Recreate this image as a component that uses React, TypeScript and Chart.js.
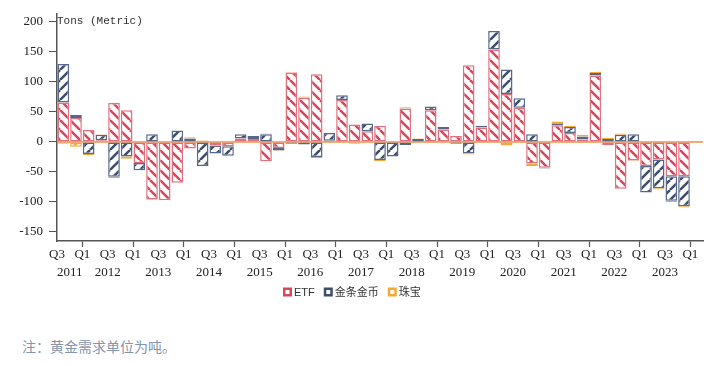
import React, { useEffect, useRef } from 'react';
import { Chart, registerables } from 'chart.js';

Chart.register(...registerables);

const categories = [
  '2011Q3', '2011Q4',
  '2012Q1', '2012Q2', '2012Q3', '2012Q4',
  '2013Q1', '2013Q2', '2013Q3', '2013Q4',
  '2014Q1', '2014Q2', '2014Q3', '2014Q4',
  '2015Q1', '2015Q2', '2015Q3', '2015Q4',
  '2016Q1', '2016Q2', '2016Q3', '2016Q4',
  '2017Q1', '2017Q2', '2017Q3', '2017Q4',
  '2018Q1', '2018Q2', '2018Q3', '2018Q4',
  '2019Q1', '2019Q2', '2019Q3', '2019Q4',
  '2020Q1', '2020Q2', '2020Q3', '2020Q4',
  '2021Q1', '2021Q2', '2021Q3', '2021Q4',
  '2022Q1', '2022Q2', '2022Q3', '2022Q4',
  '2023Q1', '2023Q2', '2023Q3', '2023Q4',
  '2024Q1',
];

const yearLabels = ['2011', '2012', '2013', '2014', '2015', '2016', '2017', '2018', '2019', '2020', '2021', '2022', '2023'];

const etf = [66, 40, 20, 3, 65, 53, -35, -96, -97, -68, -11, 2, -6, -7, 6, 5, -32, -10, 116, 74, 113, 2, 70, 29, 18, 27, -1, 56, 1, 53, 21, 10, 128, 24, 154, 80, 57, -36, -43, 28, 15, 4, 111, -5, -78, -31, -40, -29, -57, -57, null];
const barCoin = [64, 5, -20, 9, -58, -24, -12, 13, 0, 19, 6, -40, -13, -16, 7, 5, 13, -4, -3, -4, -25, 13, 8, -1, 13, -30, -23, -5, 4, 6, 4, -3, -19, 3, 31, 41, 16, 13, -1, 2, 10, 5, 4, 5, 12, 13, -44, -48, -41, -50, null];
const jewelry = [-3, -8, -2, 1, -2, -4, 1, -1, 0, 0, 2, 1, 1, 2, -1, 0, 1, -1, 1, 2, -2, 0, 0, -2, 0, -2, 0, 2, 1, 0, 0, 0, -2, 0, 0, -6, 0, -4, 0, 4, 2, 3, 2, 2, 2, -1, 1, -2, -2, -2, null];

const seriesNames = ['ETF', '金条金币', '珠宝'];
const yTicks = [-150, -100, -50, 0, 50, 100, 150, 200];
const axisTitle = 'Tons (Metric)';
const noteText = '注：黄金需求单位为吨。';

function makePattern(color: string, dir: 'down' | 'up', size = 10, lw = 2.5) {
  const c = document.createElement('canvas');
  c.width = size;
  c.height = size;
  const g = c.getContext('2d')!;
  g.fillStyle = '#ffffff';
  g.fillRect(0, 0, size, size);
  g.strokeStyle = color;
  g.lineWidth = lw;
  g.beginPath();
  for (let k = -1; k <= 1; k++) {
    if (dir === 'down') {
      g.moveTo(k * size, 0);
      g.lineTo(k * size + size, size);
    } else {
      g.moveTo(k * size, size);
      g.lineTo(k * size + size, 0);
    }
  }
  g.stroke();
  return g.createPattern(c, 'repeat')!;
}

const W = 727;
const H = 310;

export default function App() {
  const ref = useRef<HTMLCanvasElement | null>(null);

  useEffect(() => {
    const canvas = ref.current!;
    const ctx = canvas.getContext('2d')!;
    const colors = {
      etfBorder: '#e0707e',
      etfStripe: '#d8465a',
      coinBorder: '#56678a',
      coinStripe: '#3d4d6c',
      jewBorder: '#f3a93a',
      jewStripe: '#f3a93a',
    };
    const legendColors = [colors.etfStripe, colors.coinStripe, colors.jewBorder];

    const overlay = {
      id: 'overlay',
      beforeDatasetsDraw(chart: any) {
        const { ctx, chartArea, scales } = chart;
        const y0 = scales.y.getPixelForValue(0);
        ctx.save();
        ctx.strokeStyle = '#f0904a';
        ctx.lineWidth = 1.5;
        ctx.beginPath();
        ctx.moveTo(chartArea.left, y0);
        ctx.lineTo(chartArea.right, y0);
        ctx.stroke();
        ctx.restore();
      },
      afterDraw(chart: any) {
        const { ctx, scales } = chart;
        const xs = scales.x;
        ctx.save();
        // axis title
        ctx.font = "11px 'Liberation Mono', monospace";
        ctx.fillStyle = '#333';
        ctx.textBaseline = 'middle';
        ctx.textAlign = 'left';
        ctx.fillText(axisTitle, 57, 21);
        // year labels
        ctx.font = "13px 'Liberation Serif', serif";
        ctx.fillStyle = '#222';
        ctx.textAlign = 'center';
        const half = (xs.getPixelForValue(1) - xs.getPixelForValue(0)) / 2;
        yearLabels.forEach((yr) => {
          const idx = categories.map((c, i) => (c.startsWith(yr) ? i : -1)).filter((i) => i >= 0);
          const left = xs.getPixelForValue(idx[0]) - half;
          const right = xs.getPixelForValue(idx[idx.length - 1]) + half;
          ctx.fillText(yr, (left + right) / 2, 272.5);
        });
        // legend
        let x = 283;
        const ly = 292;
        ctx.textAlign = 'left';
        ctx.font = "11px 'Liberation Sans', 'Noto Sans CJK SC', sans-serif";
        chart.data.datasets.forEach((ds: any, i: number) => {
          ctx.fillStyle = '#fff';
          ctx.fillRect(x, ly - 4.5, 9, 9);
          ctx.strokeStyle = legendColors[i];
          ctx.lineWidth = 2.5;
          ctx.strokeRect(x + 1.25, ly - 3.25, 6.5, 6.5);
          ctx.fillStyle = '#333';
          ctx.fillText(ds.label, x + 11, ly + 0.5);
          x += 11 + ctx.measureText(ds.label).width + 9;
        });
        ctx.restore();
      },
    };

    const common = {
      borderSkipped: false,
      borderWidth: 1.5,
      barPercentage: 0.92,
      categoryPercentage: 1,
    };

    const chart = new Chart(ctx, {
      type: 'bar',
      data: {
        labels: categories,
        datasets: [
          {
            label: seriesNames[0],
            data: etf,
            backgroundColor: makePattern(colors.etfStripe, 'down'),
            borderColor: colors.etfBorder,
            ...common,
          },
          {
            label: seriesNames[1],
            data: barCoin,
            backgroundColor: makePattern(colors.coinStripe, 'up'),
            borderColor: colors.coinBorder,
            ...common,
          },
          {
            label: seriesNames[2],
            data: jewelry,
            backgroundColor: makePattern(colors.jewStripe, 'up'),
            borderColor: colors.jewBorder,
            ...common,
          },
        ],
      } as any,
      options: {
        responsive: false,
        animation: false,
        devicePixelRatio: 1,
        layout: { padding: { top: 14, right: 24, left: 0, bottom: 0 } },
        plugins: {
          legend: { display: false },
          tooltip: { enabled: false },
        },
        scales: {
          x: {
            stacked: true,
            offset: true,
            afterFit: (s: any) => {
              s.height = H - 241;
            },
            border: { display: true, color: '#555', width: 1.5 },
            grid: {
              display: true,
              offset: true,
              drawOnChartArea: false,
              drawTicks: true,
              tickLength: 6,
              tickWidth: 1.2,
              color: (c: any) => {
                const lbl = categories[c.index];
                return lbl && lbl.endsWith('Q1') ? '#555' : 'rgba(0,0,0,0)';
              },
            },
            ticks: {
              autoSkip: false,
              maxRotation: 0,
              minRotation: 0,
              padding: 0,
              labelOffset: -6.33,
              color: '#222',
              font: { family: "'Liberation Serif', serif", size: 13 },
              callback: (_v: any, i: number) => {
                const q = categories[i].slice(4);
                return q === 'Q1' || q === 'Q3' ? q : '';
              },
            },
          },
          y: {
            stacked: true,
            min: -165,
            max: 213.33,
            afterFit: (s: any) => {
              s.width = 57;
            },
            afterBuildTicks: (s: any) => {
              s.ticks = yTicks.map((v) => ({ value: v }));
            },
            border: { display: true, color: '#555', width: 1.5 },
            grid: {
              display: true,
              drawOnChartArea: false,
              drawTicks: true,
              tickLength: 8,
              color: '#555',
            },
            ticks: {
              padding: 6,
              color: '#222',
              font: { family: "'Liberation Serif', serif", size: 13 },
            },
          },
        },
      } as any,
      plugins: [overlay],
    });
    return () => chart.destroy();
  }, []);

  return (
    <div style={{ position: 'absolute', left: 0, top: 0, width: W, height: 366, background: '#fff' }}>
      <canvas ref={ref} width={W} height={H} style={{ display: 'block', width: W, height: H }} />
      <div
        style={{
          position: 'absolute',
          left: 22,
          top: 336,
          fontFamily: "'Noto Sans CJK SC', sans-serif",
          fontSize: 14,
          lineHeight: '20px',
          color: '#8494ad',
          whiteSpace: 'nowrap',
        }}
      >
        {noteText}
      </div>
    </div>
  );
}
